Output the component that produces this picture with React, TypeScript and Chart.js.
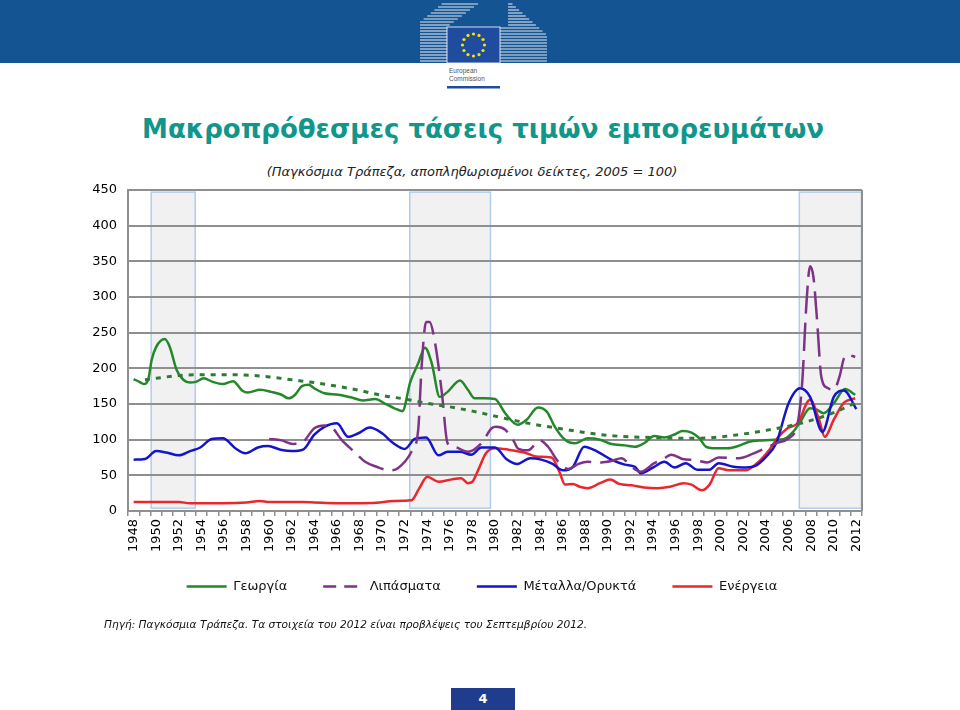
import React, { useEffect, useRef } from 'react';
import { Chart, registerables } from 'chart.js';

Chart.register(...registerables);

// ---------- DATA ----------
const YEAR_LABELS = [
  '1948', '1949', '1950', '1951', '1952', '1953', '1954', '1955', '1956', '1957',
  '1958', '1959', '1960', '1961', '1962', '1963', '1964', '1965', '1966', '1967',
  '1968', '1969', '1970', '1971', '1972', '1973', '1974', '1975', '1976', '1977',
  '1978', '1979', '1980', '1981', '1982', '1983', '1984', '1985', '1986', '1987',
  '1988', '1989', '1990', '1991', '1992', '1993', '1994', '1995', '1996', '1997',
  '1998', '1999', '2000', '2001', '2002', '2003', '2004', '2005', '2006', '2007',
  '2008', '2009', '2010', '2011', '2012',
];

const SERIES_NAMES = ['Γεωργία', 'Λιπάσματα', 'Μέταλλα/Ορυκτά', 'Ενέργεια'];

// Agriculture (Γεωργία)
const agriX = [
  1948.0, 1948.5, 1948.9, 1949.3, 1949.6, 1950.0, 1950.75, 1951.2, 1951.8, 1952.4,
  1953.0, 1953.5, 1954.2, 1955.0, 1955.9, 1956.8, 1957.6, 1958.1, 1959.2, 1960.2,
  1961.1, 1961.7, 1962.3, 1962.9, 1963.5, 1964.0, 1964.9, 1966.1, 1967.3, 1968.3,
  1969.4, 1970.2, 1971.1, 1971.8, 1972.5, 1973.2, 1973.8, 1974.4, 1975.1, 1975.8,
  1976.9, 1977.6, 1978.2, 1979.1, 1980.0, 1980.9, 1982.0, 1982.8, 1983.8, 1984.6,
  1985.3, 1986.2, 1987.1, 1988.2, 1989.3, 1990.3, 1991.5, 1992.4, 1993.2, 1994.1,
  1995.0, 1996.0, 1996.6, 1997.4, 1998.1, 1998.7, 1999.6, 2000.6, 2001.7, 2002.5,
  2003.7, 2004.9, 2005.6, 2006.4, 2007.0, 2007.9, 2008.5, 2009.1, 2010.0, 2011.0,
  2011.9,
];
const agriY = [
  185, 181, 178, 185, 212, 230, 241, 230, 198, 184,
  180, 181, 186, 181, 178, 182, 169, 166, 170, 167,
  163, 158, 163, 175, 177, 172, 165, 163, 159, 155,
  157, 151, 144, 140, 181, 207, 229, 207, 160, 167,
  183, 170, 158, 158, 157, 137, 121, 128, 145, 139,
  118, 100, 95, 102, 100, 94, 92, 90, 95, 105,
  103, 108, 112, 110, 102, 90, 88, 88, 92, 97,
  99, 100, 101, 111, 124, 144, 142, 137, 151, 171,
  163,
];

// Fertilizers (Λιπάσματα)
const fertX = [
  1960.0, 1961.1, 1962.1, 1963.0, 1964.0, 1964.9, 1965.5, 1966.4, 1967.6, 1968.5,
  1969.5, 1970.7, 1971.4, 1972.6, 1973.2, 1973.5, 1973.9, 1974.2, 1974.7, 1975.3,
  1975.8, 1976.4, 1977.6, 1978.8, 1979.7, 1980.1, 1980.9, 1981.7, 1982.0, 1982.9,
  1984.0, 1984.7, 1985.6, 1986.5, 1987.4, 1988.2, 1989.4, 1990.3, 1991.2, 1992.1,
  1992.9, 1994.1, 1995.0, 1995.6, 1996.6, 1997.8, 1998.8, 1999.8, 2001.6, 2002.8,
  2003.8, 2004.9, 2005.9, 2006.8, 2007.2, 2007.6, 2007.9, 2008.2, 2008.5, 2008.9,
  2009.5, 2010.0, 2010.5, 2010.9, 2011.2, 2011.9,
];
const fertY = [
  101, 99, 94, 97, 116, 120, 118, 100, 82, 69,
  62, 57, 60, 83, 114, 202, 265, 265, 235, 165,
  95, 90, 83, 95, 116, 118, 114, 97, 88, 85,
  99, 90, 69, 59, 66, 69, 68, 70, 74, 62,
  55, 67, 74, 79, 73, 71, 68, 75, 74, 80,
  87, 95, 101, 123, 179, 296, 343, 328, 272, 188,
  172, 170, 188, 214, 219, 216,
];

// Metals & minerals (Μέταλλα/Ορυκτά)
const metX = [
  1948.0, 1949.0, 1950.0, 1950.9, 1952.0, 1953.0, 1953.9, 1954.9, 1955.9, 1957.0,
  1957.9, 1959.0, 1959.9, 1961.0, 1962.0, 1963.0, 1964.0, 1964.9, 1966.0, 1967.0,
  1967.9, 1968.9, 1970.0, 1971.0, 1972.0, 1972.9, 1973.9, 1975.0, 1975.8, 1976.9,
  1977.9, 1978.8, 1980.0, 1981.0, 1982.0, 1983.1, 1984.1, 1985.1, 1986.0, 1986.9,
  1987.9, 1989.1, 1990.3, 1991.5, 1992.4, 1992.9, 1994.1, 1995.0, 1995.9, 1996.9,
  1997.9, 1999.0, 1999.8, 2001.1, 2001.9, 2003.0, 2004.0, 2004.9, 2006.0, 2007.0,
  2007.9, 2009.0, 2010.0, 2010.9, 2012.0,
];
const metY = [
  72, 73, 84, 82, 78, 84, 89, 101, 102, 88,
  81, 89, 91, 86, 84, 86, 107, 118, 123, 104,
  109, 117, 109, 95, 87, 101, 103, 78, 83, 83,
  79, 89, 89, 73, 66, 74, 72, 66, 57, 62,
  90, 83, 72, 65, 62, 53, 62, 69, 61, 67,
  58, 58, 67, 62, 61, 63, 76, 95, 151, 172,
  160, 111, 160, 169, 143,
];

// Energy (Ενέργεια)
const enX = [
  1948.0, 1950.0, 1952.0, 1953.0, 1956.0, 1958.0, 1959.2, 1960.0, 1963.0, 1964.0,
  1966.0, 1968.0, 1969.5, 1971.0, 1972.6, 1973.3, 1974.0, 1975.0, 1976.1, 1977.0,
  1977.6, 1978.0, 1978.5, 1979.2, 1980.0, 1981.2, 1982.6, 1983.8, 1985.0, 1985.7,
  1986.2, 1986.9, 1987.5, 1988.2, 1989.3, 1990.2, 1991.0, 1992.1, 1993.2, 1994.4,
  1995.5, 1996.7, 1997.4, 1998.3, 1999.0, 1999.8, 2000.7, 2002.2, 2003.2, 2004.3,
  2005.0, 2005.9, 2006.8, 2007.9, 2008.7, 2009.2, 2010.0, 2010.9, 2011.9,
];
const enY = [
  12.5, 12.5, 12.5, 11, 11, 12, 14, 12.5, 12.5, 12,
  11, 11, 11.5, 14, 15, 32, 48, 41, 44, 46,
  39, 41, 57, 81, 88, 86, 82, 76, 75, 55,
  37, 38, 34, 32, 39, 44, 38, 36, 33, 32,
  34, 39, 37, 29, 37, 60, 57, 57, 67, 86,
  102, 116, 123, 156, 128, 104, 128, 152, 158,
];

// Long-term agriculture trend (dotted)
const trendX = [
  1949, 1950, 1952, 1954, 1957, 1960, 1962, 1964, 1966, 1968,
  1970, 1972, 1974, 1976, 1978, 1980, 1982, 1984, 1986, 1988,
  1990, 1992, 1994, 1996, 1998, 2000, 2002, 2004, 2006, 2008,
  2010, 2012,
];
const trendY = [
  184, 186, 190, 191, 191, 188, 184, 180, 175, 169,
  162, 157, 151, 146, 140, 133, 126, 120, 115, 110,
  106, 104, 103, 102, 102, 104, 108, 113, 119, 127,
  138, 152,
];

// Shaded periods (years) and their vertical extent (index values)
const shadeStart = [1949.55, 1972.45, 2006.95];
const shadeEnd = [1953.45, 1979.6, 2012.45];
const shadeTop = 447;
const shadeBottom = 4;

// ---------- STYLE ----------
const GREEN = '#24882a';
const PURPLE = '#7e3388';
const BLUE = '#1414c8';
const RED = '#e8282c';
const TREND = '#2f7a35';
const GRID = '#8f8f8f';
const FONT = '"DejaVu Sans", Verdana, sans-serif';

const pts = (xs: number[], ys: number[]) => xs.map((x, i) => ({ x, y: ys[i] }));

const shadePlugin = {
  id: 'shadePeriods',
  afterLayout(chart: any) {
    // widen label clip areas (axes were shrunk only for layout purposes)
    const sx = chart.scales.x;
    const sy = chart.scales.y;
    if (sx) sx.bottom = sx.top + 70;
    if (sy) sy.left = sy.right - 80;
  },
  beforeDraw(chart: any) {
    const { ctx } = chart;
    const xs = chart.scales.xl;
    const ys = chart.scales.y;
    ctx.save();
    for (let i = 0; i < shadeStart.length; i++) {
      const x0 = xs.getPixelForValue(shadeStart[i]);
      const x1 = xs.getPixelForValue(shadeEnd[i]);
      const y0 = ys.getPixelForValue(shadeTop);
      const y1 = ys.getPixelForValue(shadeBottom);
      ctx.fillStyle = '#f1f1f1';
      ctx.fillRect(x0, y0, x1 - x0, y1 - y0);
      ctx.strokeStyle = '#b2cdec';
      ctx.lineWidth = 1.5;
      ctx.strokeRect(x0, y0, x1 - x0, y1 - y0);
    }
    ctx.restore();
  },
  beforeDatasetsDraw(chart: any) {
    const { ctx, chartArea } = chart;
    ctx.save();
    ctx.strokeStyle = GRID;
    ctx.lineWidth = 2;
    ctx.beginPath();
    ctx.moveTo(chartArea.right, chartArea.top);
    ctx.lineTo(chartArea.right, chartArea.bottom);
    ctx.stroke();
    ctx.restore();
  },
};

function CommodityChart() {
  const ref = useRef<HTMLCanvasElement | null>(null);
  useEffect(() => {
    if (!ref.current) return;
    Chart.defaults.font.family = FONT;
    const lineBase = {
      xAxisID: 'xl',
      yAxisID: 'y',
      pointRadius: 0,
      pointHoverRadius: 0,
      borderWidth: 2.5,
      fill: false,
      cubicInterpolationMode: 'monotone' as const,
      borderJoinStyle: 'round' as const,
    };
    const legendColors = [GREEN, PURPLE, BLUE, RED];
    const chart = new Chart(ref.current, {
      type: 'line',
      data: {
        labels: YEAR_LABELS,
        datasets: [
          { ...lineBase, label: 'trend', data: pts(trendX, trendY), borderColor: TREND, borderWidth: 3, borderDash: [5, 6] },
          { ...lineBase, label: SERIES_NAMES[1], data: pts(fertX, fertY), borderColor: PURPLE, borderDash: [28, 9] },
          { ...lineBase, label: SERIES_NAMES[2], data: pts(metX, metY), borderColor: BLUE },
          { ...lineBase, label: SERIES_NAMES[3], data: pts(enX, enY), borderColor: RED },
          { ...lineBase, label: SERIES_NAMES[0], data: pts(agriX, agriY), borderColor: GREEN },
        ] as any,
      },
      options: {
        animation: false,
        responsive: false,
        maintainAspectRatio: false,
        events: [],
        layout: { padding: { left: 72, right: 72, top: 20, bottom: 27 } },
        scales: {
          x: {
            type: 'category',
            offset: true,
            grid: { offset: true, drawOnChartArea: false, drawTicks: true, tickLength: 5, color: GRID, lineWidth: 1.5 },
            border: { color: GRID, width: 2 },
            ticks: {
              autoSkip: false,
              minRotation: 90,
              maxRotation: 90,
              padding: 3,
              color: '#000',
              font: { size: 13, family: FONT },
              callback: function (this: any, v: any, i: number) {
                return i % 2 === 0 ? this.getLabelForValue(v) : '';
              },
            },
            afterFit: (s: any) => { s.height = 33; },
          },
          xl: { type: 'linear', display: false, min: 1947.5, max: 2012.5 },
          y: {
            min: 0,
            max: 450,
            ticks: { stepSize: 50, padding: 11, color: '#000', font: { size: 13, family: FONT } },
            grid: { color: GRID, lineWidth: 2, drawTicks: false },
            border: { color: GRID, width: 2 },
            afterFit: (s: any) => { s.width = 26; },
          },
        } as any,
        plugins: {
          legend: {
            position: 'bottom',
            labels: {
              usePointStyle: true,
              pointStyleWidth: 40,
              padding: 36,
              color: '#111',
              font: { size: 13, family: FONT },
              generateLabels: () =>
                SERIES_NAMES.map((t, i) => ({
                  text: t,
                  datasetIndex: i,
                  strokeStyle: legendColors[i],
                  fillStyle: legendColors[i],
                  fontColor: '#111',
                  lineWidth: 2.5,
                  lineDash: i === 1 ? [13, 8] : [],
                  pointStyle: 'line',
                  hidden: false,
                })) as any,
            },
          },
          tooltip: { enabled: false },
        },
      },
      plugins: [shadePlugin],
    });
    return () => chart.destroy();
  }, []);
  return (
    <canvas
      ref={ref}
      width={904}
      height={460}
      style={{ position: 'absolute', left: 30, top: 170, width: 904, height: 460 }}
    />
  );
}

function Logo() {
  const leftLines: JSX.Element[] = [];
  for (let y = 4; y <= 62; y += 3) {
    const xl = y > 22 ? 420 : 420 + (22 - y) * 1.2;
    const xr = y >= 27 ? 447 : 447 + (27 - y) * 1.35;
    leftLines.push(<line key={'l' + y} x1={xl} y1={y} x2={xr} y2={y} stroke="#ffffff" strokeOpacity={0.85} strokeWidth={1.1} />);
  }
  const rightLines: JSX.Element[] = [];
  for (let y = 4; y <= 62; y += 3) {
    const xe = y > 35 ? 547 : 508 + (y / 35) * 39;
    const xs = y >= 27 ? 500 : 508;
    rightLines.push(<line key={'r' + y} x1={xs} y1={y} x2={xe} y2={y} stroke="#ffffff" strokeOpacity={0.85} strokeWidth={1.1} />);
  }
  const stars: JSX.Element[] = [];
  for (let k = 0; k < 12; k++) {
    const a = (k / 12) * Math.PI * 2;
    stars.push(<circle key={'s' + k} cx={473.5 + Math.cos(a) * 11} cy={45 + Math.sin(a) * 11} r={1.6} fill="#f6e500" />);
  }
  return (
    <svg width={960} height={92} style={{ position: 'absolute', left: 0, top: 0 }}>
      {leftLines}
      {rightLines}
      <rect x={447} y={27} width={53} height={36} fill="#1f4c9e" stroke="#ffffff" strokeWidth={0.8} />
      {stars}
      <rect x={447} y={63} width={53} height={25} fill="#ffffff" />
      <text x={449} y={73} fontSize={6.5} fill="#555" fontFamily="Liberation Sans, sans-serif">European</text>
      <text x={449} y={81} fontSize={6.5} fill="#555" fontFamily="Liberation Sans, sans-serif">Commission</text>
      <rect x={447} y={86} width={53} height={2.5} fill="#1f4c9e" />
    </svg>
  );
}

export default function App() {
  return (
    <div
      style={{
        position: 'absolute',
        left: 0,
        top: 0,
        width: 960,
        height: 710,
        overflow: 'hidden',
        background: '#ffffff',
        fontFamily: FONT,
      }}
    >
      <div style={{ position: 'absolute', left: 0, top: 0, width: 960, height: 63, background: '#155492' }} />
      <Logo />
      <div
        style={{
          position: 'absolute',
          left: 3,
          top: 114,
          width: 960,
          textAlign: 'center',
          fontSize: 26,
          lineHeight: '30px',
          fontWeight: 'bold',
          color: '#10968b',
          whiteSpace: 'nowrap',
        }}
      >
        Μακροπρόθεσμες τάσεις τιμών εμπορευμάτων
      </div>
      <div
        style={{
          position: 'absolute',
          left: -8,
          top: 164,
          width: 960,
          textAlign: 'center',
          fontSize: 13,
          lineHeight: '15px',
          fontStyle: 'italic',
          color: '#222',
          whiteSpace: 'nowrap',
        }}
      >
        (Παγκόσμια Τράπεζα, αποπληθωρισμένοι δείκτες, 2005 = 100)
      </div>
      <CommodityChart />
      <div
        style={{
          position: 'absolute',
          left: 104,
          top: 618,
          fontSize: 10.6,
          lineHeight: '12px',
          fontStyle: 'italic',
          color: '#111',
          whiteSpace: 'nowrap',
        }}
      >
        Πηγή: Παγκόσμια Τράπεζα. Τα στοιχεία του 2012 είναι προβλέψεις του Σεπτεμβρίου 2012.
      </div>
      <div
        style={{
          position: 'absolute',
          left: 451,
          top: 688,
          width: 64,
          height: 22,
          background: '#1f3d8c',
          color: '#ffffff',
          fontWeight: 'bold',
          fontSize: 13,
          lineHeight: '22px',
          textAlign: 'center',
        }}
      >
        4
      </div>
    </div>
  );
}
